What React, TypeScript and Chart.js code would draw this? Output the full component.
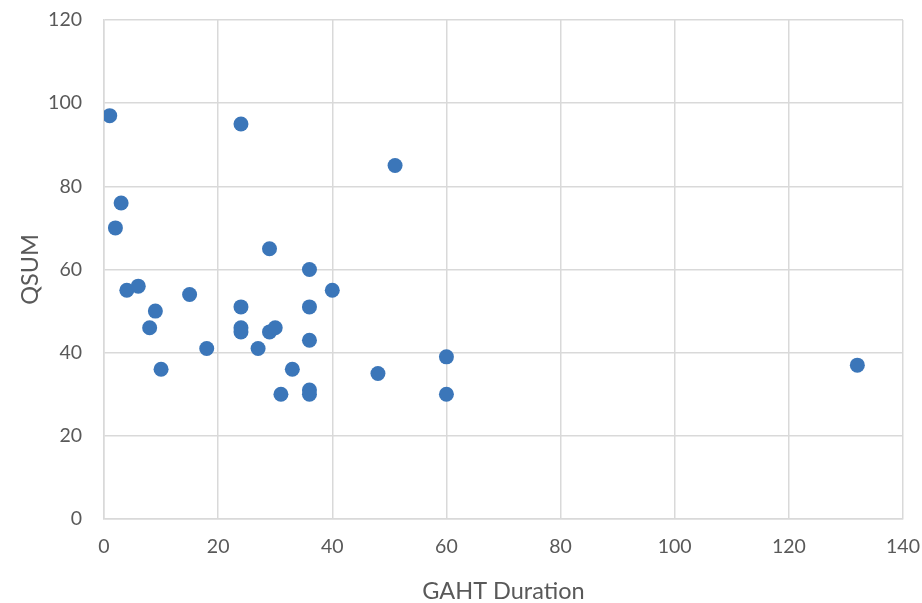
import React, { useEffect, useRef } from "react";
import { Chart, registerables } from "chart.js";

Chart.register(...registerables);

const xValues = [1, 24, 51, 3, 2, 29, 36, 4, 6, 40, 15, 24, 36, 9, 8, 24, 24, 29, 30, 36, 18, 27, 10, 33, 48, 60, 132, 31, 36, 36, 60];
const yValues = [97, 95, 85, 76, 70, 65, 60, 55, 56, 55, 54, 51, 51, 50, 46, 46, 45, 45, 46, 43, 41, 41, 36, 36, 35, 39, 37, 30, 31, 30, 30];
const xTitle = "GAHT Duration";
const yTitle = "QSUM";

const FONT = "Lato, 'Open Sans', sans-serif";
const TEXT = "#595959";
const GRID = "#d9d9d9";

export default function App() {
  const ref = useRef<HTMLCanvasElement | null>(null);
  useEffect(() => {
    if (!ref.current) return;
    const data = xValues.map((x, i) => ({ x, y: yValues[i] }));
    const chart = new Chart(ref.current, {
      type: "scatter",
      data: {
        datasets: [
          {
            data,
            backgroundColor: "#3b76b9",
            borderColor: "#3b76b9",
            borderWidth: 0,
            pointRadius: 7.5,
            pointHoverRadius: 7.5,
          },
        ],
      },
      options: {
        responsive: false,
        animation: false,
        layout: { padding: { left: 0, right: 19, top: 20, bottom: 0 } },
        plugins: { legend: { display: false }, tooltip: { enabled: false } },
        scales: {
          x: {
            type: "linear",
            min: 0,
            max: 140,
            ticks: { stepSize: 20, color: TEXT, font: { family: FONT, size: 19.5 }, padding: 16 },
            grid: { color: GRID, lineWidth: 1.5, drawTicks: false },
            border: { color: GRID, width: 1.5 },
            title: { display: true, text: xTitle, color: TEXT, font: { family: FONT, size: 23.5 }, padding: { top: 0, bottom: -3 } },
            afterFit: (s: any) => {
              s.height = 84;
              s.paddingLeft = 0;
              s.paddingRight = 0;
            },
          },
          y: {
            type: "linear",
            min: 0,
            max: 120,
            ticks: { stepSize: 20, color: TEXT, font: { family: FONT, size: 19.5 }, padding: 22 },
            grid: { color: GRID, lineWidth: 1.5, drawTicks: false },
            border: { color: GRID, width: 1.5 },
            title: { display: true, text: yTitle, color: TEXT, font: { family: FONT, size: 23.5 }, padding: { top: 16, bottom: 0 } },
            afterFit: (s: any) => {
              s.width = 104;
              s.paddingTop = 0;
              s.paddingBottom = 0;
            },
          },
        },
      },
    });
    return () => chart.destroy();
  }, []);
  return (
    <div style={{ position: "fixed", left: 0, top: 0, width: 922, height: 603, background: "#fff" }}>
      <canvas ref={ref} width={922} height={603} style={{ width: 922, height: 603 }} />
    </div>
  );
}
